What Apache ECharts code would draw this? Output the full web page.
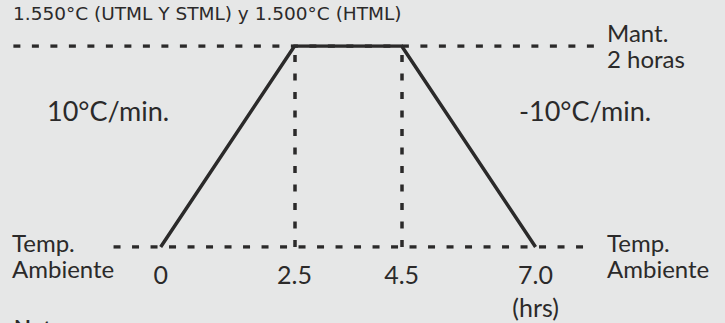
<!DOCTYPE html>
<html>
<head>
<meta charset="utf-8">
<script src="https://cdn.jsdelivr.net/npm/echarts@6/dist/echarts.min.js"></script>
<style>
  html, body { margin: 0; padding: 0; background: #e6e7e7; }
  #chart { width: 725px; height: 323px; }
</style>
</head>
<body>
<div id="chart"></div>
<script>
// ciclo de tratamiento (horas / temperatura)
var hours = [0, 2.5, 4.5, 7.0];
var temps = [25, 1550, 1550, 25];
var tickLabels = ["0", "2.5", "4.5", "7.0"];
var holdHours = [2.5, 4.5];
// extensión de las líneas de referencia (horas)
var topRef = [-2.75, 8.2];
var baseRef = [-0.88, 8.0];
var titleText = "1.550°C (UTML Y STML) y 1.500°C (HTML)";
var rampUp = "10°C/min.";
var rampDown = "-10°C/min.";
var holdText = "Mant.\n2 horas";
var ambText = "Temp.\nAmbiente";
var unitText = "(hrs)";
var noteText = "Nota:";

var ink = "#2b2a2a";
var font = "Lato";

var myChart = echarts.init(document.getElementById("chart"), null, { renderer: "svg" });

function text(str, x, y, size, extra) {
  var style = {
    text: str,
    x: x,
    y: y,
    fill: ink,
    font: size + "px " + font,
    verticalAlign: "top",
    align: "left",
  };
  if (extra) Object.assign(style, extra);
  return { type: "text", silent: true, style: style };
}

myChart.setOption({
  backgroundColor: "#e6e7e7",
  animation: false,
  grid: { left: 0, right: 2, top: 46, bottom: 75 },
  xAxis: {
    type: "value",
    min: -3,
    max: 10.5,
    axisLine: { show: false },
    axisTick: { show: false },
    splitLine: { show: false },
    axisLabel: {
      customValues: hours,
      margin: 10,
      color: ink,
      fontFamily: font,
      fontSize: 25,
      lineHeight: 33,
      formatter: function (v) {
        var i = hours.indexOf(v);
        var s = i >= 0 ? tickLabels[i] : "";
        if (i === hours.length - 1) s += "\n" + unitText;
        return s;
      },
    },
  },
  yAxis: {
    type: "value",
    min: temps[0],
    max: temps[1],
    show: false,
  },
  series: [
    {
      // línea superior (temperatura máxima)
      type: "line",
      symbol: "none",
      silent: true,
      data: [[topRef[0], temps[1]], [topRef[1], temps[1]]],
      lineStyle: { color: ink, width: 3.5, type: [7, 11.5] },
      z: 1,
    },
    {
      // línea base (temp. ambiente)
      type: "line",
      symbol: "none",
      silent: true,
      data: [[baseRef[0], temps[0]], [baseRef[1], temps[0]]],
      lineStyle: { color: ink, width: 3.5, type: [7, 11.5] },
      z: 1,
    },
    {
      type: "line",
      symbol: "none",
      silent: true,
      data: hours.map(function (h, i) { return [h, temps[i]]; }),
      lineStyle: { color: ink, width: 3.5, join: "miter" },
      z: 3,
      markLine: {
        silent: true,
        symbol: "none",
        label: { show: false },
        lineStyle: { color: ink, width: 3.5, type: [7, 11.5] },
        data: holdHours.map(function (h) { return { xAxis: h }; }),
        z: 2,
      },
    },
  ],
  graphic: [
    text(titleText, 13, 4, 17, { font: "18.5px 'DejaVu Sans'" }),
    text(rampUp, 47, 97, 27),
    text(rampDown, 519, 97, 27),
    text(holdText, 607, 19, 24, { lineHeight: 26 }),
    text(ambText, 12, 229, 24, { lineHeight: 26 }),
    text(ambText, 607, 229, 24, { lineHeight: 26 }),
    text(noteText, 14, 317, 22, { font: "bold 22px " + font }),
  ],
});
</script>
</body>
</html>
